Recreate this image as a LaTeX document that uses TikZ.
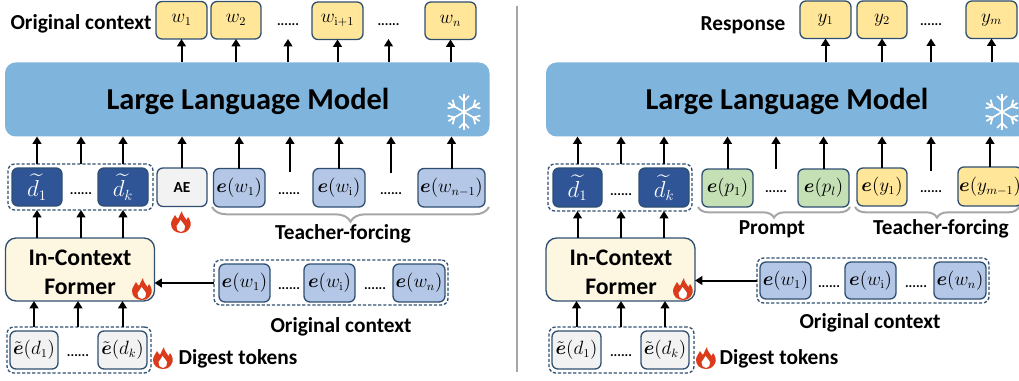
\documentclass[tikz,border=0pt]{standalone}
\usepackage{amsmath}
\usepackage[no-math]{fontspec}
\setmainfont{Carlito}
\usetikzlibrary{arrows.meta,decorations.pathreplacing}
\definecolor{edgeC}{HTML}{2F4F70}
\definecolor{yellowC}{HTML}{FFE699}
\definecolor{blueC}{HTML}{B4C7E7}
\definecolor{greenC}{HTML}{C5E0B4}
\definecolor{grayC}{HTML}{F2F2F2}
\definecolor{darkC}{HTML}{2F5597}
\definecolor{llmC}{HTML}{7FB4DC}
\definecolor{formerC}{HTML}{FDF6E0}
\definecolor{braceC}{HTML}{A6A6A6}
\definecolor{flameC}{HTML}{DB3A1B}
\tikzset{
  x=0.75pt,y=-0.75pt,
  tokbox/.style={draw=edgeC,line width=1pt,rounded corners=4.5pt,inner sep=0pt,outer sep=0pt,font=\fontsize{13.5}{15}\selectfont},
  yel/.style={fill=yellowC},
  blu/.style={fill=blueC},
  grn/.style={fill=greenC},
  gry/.style={fill=grayC},
  drk/.style={fill=darkC,text=white,font=\fontsize{16}{18}\selectfont},
  llmbox/.style={fill=llmC,draw=none,rounded corners=8pt},
  llmtext/.style={font=\bfseries\fontsize{22.8}{26}\selectfont,inner sep=0pt},
  former/.style={fill=formerC,rounded corners=8pt},
  formertext/.style={font=\bfseries\fontsize{17.8}{21.75}\selectfont,align=center,inner sep=0pt},
  dashbox/.style={draw=edgeC,line width=1pt,dash pattern=on 2.4pt off 1.4pt,rounded corners=5pt,inner sep=0pt,outer sep=0pt},
  lbl/.style={font=\bfseries\fontsize{16}{18}\selectfont,inner sep=0pt},
  dotsn/.style={font=\bfseries\fontsize{10.3}{12}\selectfont,anchor=base,inner sep=0pt},
  arr/.style={line width=1.5pt,-{Triangle[width=6.5pt,length=5.5pt]}},
  bracel/.style={draw=braceC,line width=1.5pt,decorate,decoration={brace,mirror,amplitude=#1}},
  flameicon/.pic={
    \fill[flameC] (0,11) .. controls (-6,11) and (-10,7) .. (-10,2)
      .. controls (-10,-2) and (-7,-4) .. (-6,-7)
      .. controls (-5,-5) and (-4,-4) .. (-3,-3)
      .. controls (-1,-6) and (-1,-9) .. (1,-11)
      .. controls (1,-7) and (4,-5) .. (5.5,-2)
      .. controls (6.5,-3) and (7,-4) .. (7,-5)
      .. controls (10,-1) and (10.5,3) .. (9,5)
      .. controls (8,8) and (5,11) .. (0,11) -- cycle;
    \fill[white] (0,10) .. controls (-3,10) and (-5,7) .. (-4.5,4)
      .. controls (-3.5,2) and (-1.5,1) .. (-0.5,-2)
      .. controls (1,0) and (3,2) .. (4,4)
      .. controls (4.5,7) and (3,10) .. (0,10) -- cycle;
  },
  snowicon/.pic={
    \foreach \a in {0,60,120,180,240,300}{
      \begin{scope}[rotate=\a,draw=white,line width=1.3pt]
        \draw (0,0) -- (0,-18);
        \draw (-5,-16) -- (0,-11) -- (5,-16);
      \end{scope}
    }
  }
}
\newcommand{\tok}[7]{%
  \pgfmathsetmacro{\tokW}{(#4-#2)*0.75}%
  \pgfmathsetmacro{\tokH}{(#5-#3)*0.75}%
  \pgfmathsetmacro{\tokX}{(#2+#4)/2}%
  \pgfmathsetmacro{\tokY}{(#3+#5)/2}%
  \node[tokbox,#6,minimum width=\tokW pt,minimum height=\tokH pt] (#1) at (\tokX,\tokY) {#7};%
}
\newcommand{\dsh}[5]{%
  \pgfmathsetmacro{\tokW}{(#4-#2)*0.75}%
  \pgfmathsetmacro{\tokH}{(#5-#3)*0.75}%
  \pgfmathsetmacro{\tokX}{(#2+#4)/2}%
  \pgfmathsetmacro{\tokY}{(#3+#5)/2}%
  \node[dashbox,minimum width=\tokW pt,minimum height=\tokH pt] (#1) at (\tokX,\tokY) {};%
}
\newcommand{\eb}{\boldsymbol{e}}
\newcommand{\et}{\tilde{\boldsymbol{e}}}
\begin{document}
\begin{tikzpicture}
\useasboundingbox (0,0) rectangle (1019,381);
\clip (0,0) rectangle (1019,381);

% divider
\coordinate (divT) at (517,6);
\coordinate (divB) at (517,372);
\draw[braceC,line width=1.5pt] (divT) -- (divB);

%%%%%%%% LEFT PANEL
\node[lbl] (lOC) at (81,24) {Original context};
\tok{lw1}{156}{1.5}{207}{39}{yel}{$w_1$}
\tok{lw2}{211}{1.5}{261}{39}{yel}{$w_2$}
\node[dotsn] (ldt1) at (288,26) {......};
\tok{lwi}{312}{2}{363}{39.5}{yel}{$w_{\mathrm{i+1}}$}
\node[dotsn] (ldt2) at (388.5,26) {......};
\tok{lwn}{425}{2}{476}{39.5}{yel}{$w_n$}

\tok{lL}{5}{62.5}{489.5}{136.5}{llmbox}{}
\node[llmtext] (lLt) at (248,101) {Large Language Model};
\pic at (464,112) {snowicon};

\dsh{ldD}{8}{164}{153}{210}
\tok{ld1}{12}{168}{62}{206}{drk}{$\widetilde{d_1}$}
\node[dotsn] (ldt3) at (81,194) {......};
\tok{ldk}{98}{168}{148}{206}{drk}{$\widetilde{d_k}$}
\tok{lAE}{157}{168}{207}{206.5}{gry}{\bfseries\fontsize{11.5}{13}\selectfont AE}
\pic at (181,222) {flameicon};
\tok{le1}{213.5}{168.5}{265}{207}{blu}{$\eb(w_1)$}
\node[dotsn] (ldt4) at (289,194) {......};
\tok{lei}{313}{168.5}{365}{207}{blu}{$\eb(w_{\mathrm{i}})$}
\node[dotsn] (ldt5) at (391,194) {......};
\tok{len}{418}{168.5}{485}{207}{blu}{$\eb(w_{n-1})$}
\coordinate (lg1) at (290,172);
\coordinate (lg2) at (391,173);
\coordinate (lbA) at (212,207);
\coordinate (lbB) at (489,207);
\draw[bracel=11pt] (lbA) -- (lbB);
\node[lbl] (lTF) at (343,233.5) {Teacher-forcing};

\tok{lF}{5.5}{238}{154.5}{301}{former}{}
\node[formertext] (lFt) at (80,272) {In-Context\\Former};
\pic at (142,289) {flameicon};
\dsh{loD}{214}{260}{448}{305}
\tok{lo1}{219}{264}{270}{302}{blu}{$\eb(w_1)$}
\node[dotsn] (ldt6) at (289,289) {......};
\tok{loi}{304}{264}{355}{302}{blu}{$\eb(w_{\mathrm{i}})$}
\node[dotsn] (ldt7) at (375,289) {......};
\tok{lon}{393}{264}{445}{302}{blu}{$\eb(w_n)$}
\node[lbl] (lOC2) at (341,327) {Original context};

\dsh{lgD}{7}{327}{151}{373}
\tok{lt1}{10}{331}{58}{369}{gry}{$\et(d_1)$}
\node[dotsn] (ldt8) at (78,356) {......};
\tok{ltk}{98}{331}{147}{369}{gry}{$\et(d_k)$}
\pic at (163,358) {flameicon};
\node[lbl] (lDT) at (238,359) {Digest tokens};

% left arrows
\draw[arr] (lw1 |- lL.north) -- (lw1.south);
\draw[arr] (lw2 |- lL.north) -- (lw2.south);
\draw[arr] (ldt1 |- lL.north) -- (ldt1 |- lw1.south);
\draw[arr] (lwi |- lL.north) -- (lwi.south);
\draw[arr] (ldt2 |- lL.north) -- (ldt2 |- lw1.south);
\draw[arr] (lwn |- lL.north) -- (lwn.south);
\draw[arr] (ld1 |- ldD.north) -- (ld1 |- lL.south);
\draw[arr] (ldt3 |- ldD.north) -- (ldt3 |- lL.south);
\draw[arr] (ldk |- ldD.north) -- (ldk |- lL.south);
\draw[arr] (lAE.north) -- (lAE |- lL.south);
\draw[arr] (le1.north) -- (le1 |- lL.south);
\draw[arr] (lg1) -- (lg1 |- lL.south);
\draw[arr] (lei.north) -- (lei |- lL.south);
\draw[arr] (lg2) -- (lg2 |- lL.south);
\draw[arr] (len.north) -- (len |- lL.south);
\draw[arr] (ld1 |- lF.north) -- (ld1 |- ldD.south);
\draw[arr] (ldt3 |- lF.north) -- (ldt3 |- ldD.south);
\draw[arr] (ldk |- lF.north) -- (ldk |- ldD.south);
\draw[arr] (lt1 |- lgD.north) -- (lt1 |- lF.south);
\draw[arr] (ldt8 |- lgD.north) -- (ldt8 |- lF.south);
\draw[arr] (ltk |- lgD.north) -- (ltk |- lF.south);
\draw[arr] (loD.west |- lo1) -- (lF.east |- lo1);

%%%%%%%% RIGHT PANEL
\node[lbl] (rRS) at (743,25) {Response};
\tok{ry1}{800}{1}{851}{38.5}{yel}{$y_1$}
\tok{ry2}{857}{1}{907}{38.5}{yel}{$y_2$}
\node[dotsn] (rdt1) at (931,26) {......};
\tok{rym}{966}{1}{1017}{38.5}{yel}{$y_m$}

\tok{rL}{546}{62.5}{1028}{136.5}{llmbox}{}
\node[llmtext] (rLt) at (787,101) {Large Language Model};
\pic at (1002,112) {snowicon};

\dsh{rdD}{548}{164}{692}{211}
\tok{rd1}{553}{168}{602}{207}{drk}{$\widetilde{d_1}$}
\node[dotsn] (rdt2) at (621,195) {......};
\tok{rdk}{639}{168}{689}{207}{drk}{$\widetilde{d_k}$}
\tok{rp1}{702}{169}{753}{207}{grn}{$\eb(p_1)$}
\node[dotsn] (rdt3) at (776,192) {......};
\tok{rpl}{798}{169}{849}{207}{grn}{$\eb(p_l)$}
\tok{rey}{857}{168}{907}{206}{yel}{$\eb(y_1)$}
\node[dotsn] (rdt4) at (931,192) {......};
\tok{rem}{958}{167}{1022}{206}{yel}{$\eb(y_{m-1})$}
\coordinate (rg1) at (776,169);
\coordinate (rg2) at (931,171);
\coordinate (rbA) at (698,207);
\coordinate (rbB) at (850,207);
\coordinate (rbC) at (855,207);
\coordinate (rbD) at (1019,207);
\draw[bracel=8pt] (rbA) -- (rbB);
\draw[bracel=8pt] (rbC) -- (rbD);
\node[lbl] (rPR) at (772,229) {Prompt};
\node[lbl] (rTF) at (941,229) {Teacher-forcing};

\tok{rF}{546}{238}{695}{301}{former}{}
\node[formertext] (rFt) at (621,272) {In-Context\\Former};
\pic at (683,289) {flameicon};
\dsh{roD}{757}{258}{989}{303}
\tok{ro1}{760}{262}{811}{299}{blu}{$\eb(w_1)$}
\node[dotsn] (rdt5) at (829,287) {......};
\tok{roi}{845}{262}{896}{299}{blu}{$\eb(w_{\mathrm{i}})$}
\node[dotsn] (rdt6) at (916,287) {......};
\tok{ron}{934}{262}{986}{299}{blu}{$\eb(w_n)$}
\node[lbl] (rOC2) at (870,323) {Original context};

\dsh{rgD}{549}{327}{694}{373}
\tok{rt1}{552}{331}{601}{369}{gry}{$\et(d_1)$}
\node[dotsn] (rdt7) at (621,356) {......};
\tok{rtk}{641}{331}{689}{369}{gry}{$\et(d_k)$}
\pic at (706,358) {flameicon};
\node[lbl] (rDT) at (779,359) {Digest tokens};

% right arrows
\draw[arr] (ry1 |- rL.north) -- (ry1.south);
\draw[arr] (ry2 |- rL.north) -- (ry2.south);
\draw[arr] (rdt1 |- rL.north) -- (rdt1 |- ry1.south);
\draw[arr] (rym |- rL.north) -- (rym.south);
\draw[arr] (rd1 |- rdD.north) -- (rd1 |- rL.south);
\draw[arr] (rdt2 |- rdD.north) -- (rdt2 |- rL.south);
\draw[arr] (rdk |- rdD.north) -- (rdk |- rL.south);
\draw[arr] (rp1.north) -- (rp1 |- rL.south);
\draw[arr] (rg1) -- (rg1 |- rL.south);
\draw[arr] (rpl.north) -- (rpl |- rL.south);
\draw[arr] (rey.north) -- (rey |- rL.south);
\draw[arr] (rg2) -- (rg2 |- rL.south);
\draw[arr] (rem.north) -- (rem |- rL.south);
\draw[arr] (rd1 |- rF.north) -- (rd1 |- rdD.south);
\draw[arr] (rdt2 |- rF.north) -- (rdt2 |- rdD.south);
\draw[arr] (rdk |- rF.north) -- (rdk |- rdD.south);
\draw[arr] (rt1 |- rgD.north) -- (rt1 |- rF.south);
\draw[arr] (rdt7 |- rgD.north) -- (rdt7 |- rF.south);
\draw[arr] (rtk |- rgD.north) -- (rtk |- rF.south);
\draw[arr] (roD.west |- ro1) -- (rF.east |- ro1);
\end{tikzpicture}
\end{document}
